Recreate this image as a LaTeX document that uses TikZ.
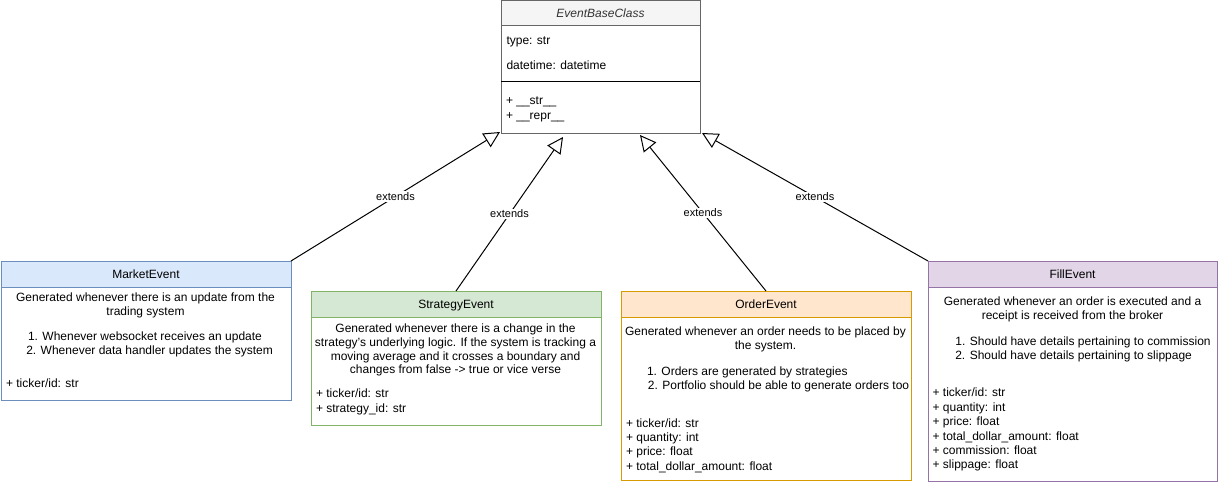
\documentclass[tikz,border=0pt]{standalone}
\usepackage{fontspec}
\setmainfont{Liberation Sans}
\usetikzlibrary{arrows.meta,calc}

\definecolor{baseline}{HTML}{666666}
\definecolor{basefill}{HTML}{F5F5F5}
\definecolor{basetext}{HTML}{333333}
\definecolor{mktline}{HTML}{6C8EBF}
\definecolor{mktfill}{HTML}{DAE8FC}
\definecolor{strline}{HTML}{82B366}
\definecolor{strfill}{HTML}{D5E8D4}
\definecolor{ordline}{HTML}{D79B00}
\definecolor{ordfill}{HTML}{FFE6CC}
\definecolor{fillline}{HTML}{9673A6}
\definecolor{fillfill}{HTML}{E1D5E7}

\begin{document}
\begin{tikzpicture}[x=1pt,y=-1pt,
  every node/.style={inner sep=0pt, outer sep=0pt},
  body/.style={font=\fontsize{12}{14.4}\selectfont},
  txt/.style={body, anchor=base west},
  ctxt/.style={body, anchor=base},
  frame/.style={draw=#1, line width=1pt, anchor=north west,
    minimum width=290pt},
  head/.style={frame=#1, minimum height=26pt, body,
    text height=8.6pt, text depth=0pt},
  ext/.style={draw=black, line width=1pt,
    -{Triangle[open, length=16pt, width=16pt]}},
  lbl/.style={midway, fill=white, inner sep=1pt,
    font=\fontsize{11}{13}\selectfont},
]
\useasboundingbox (0,0) rectangle (1218,484);

% ---------- base class ----------
\node[frame=baseline, minimum width=199pt, minimum height=133pt] (base) at (501,1) {};
\node[head=baseline, fill=basefill, minimum width=199pt, minimum height=25pt,
  font=\fontsize{12}{14.4}\selectfont\itshape, text=basetext] (baseHead) at (501,1) {EventBaseClass};
\node[txt] (bType) at (506.5,45) {type: str};
\node[txt] (bDate) at (506.5,70) {datetime: datetime};
\draw[line width=1pt] ($(base.north west)+(0,81)$) -- ($(base.north east)+(0,81)$);
\node[txt] (bStr)  at (506,105) {+ \_\_str\_\_};
\node[txt] (bRepr) at (506,119.4) {+ \_\_repr\_\_};

% ---------- MarketEvent ----------
\node[frame=mktline, minimum height=139pt] (market) at (1,261) {};
\node[head=mktline, fill=mktfill] (marketHead) at (1,261) {MarketEvent};
\node[ctxt] (mDesc1) at (145.5,301.5) {Generated whenever there is an update from the};
\node[ctxt] (mDesc2) at (145.5,315.9) {trading system};
\node[txt] (mList1) at (28,340) {1. Whenever websocket receives an update};
\node[txt] (mList2) at (26.3,354.4) {2. Whenever data handler updates the system};
\node[txt] (mAttr1) at (6,387.6) {+ ticker/id: str};

% ---------- StrategyEvent ----------
\node[frame=strline, minimum height=134pt] (strategy) at (311,291) {};
\node[head=strline, fill=strfill] (strategyHead) at (311,291) {StrategyEvent};
\node[ctxt] (sDesc1) at (455.5,332.6) {Generated whenever there is a change in the};
\node[ctxt] (sDesc2) at (455.5,346.3) {strategy's underlying logic. If the system is tracking a};
\node[ctxt] (sDesc3) at (455.5,360) {moving average and it crosses a boundary and};
\node[ctxt] (sDesc4) at (455.5,373.7) {changes from false -> true or vice verse};
\node[txt] (sAttr1) at (316,397.6) {+ ticker/id: str};
\node[txt] (sAttr2) at (316,412) {+ strategy\_id: str};

% ---------- OrderEvent ----------
\node[frame=ordline, minimum height=189pt] (order) at (621,291) {};
\node[head=ordline, fill=ordfill] (orderHead) at (621,291) {OrderEvent};
\node[ctxt] (oDesc1) at (765.5,335) {Generated whenever an order needs to be placed by};
\node[ctxt] (oDesc2) at (765.5,349.3) {the system.};
\node[txt] (oList1) at (647,375.3) {1. Orders are generated by strategies};
\node[txt] (oList2) at (647.9,389.3) {2. Portfolio should be able to generate orders too};
\node[txt] (oAttr1) at (626,427.6) {+ ticker/id: str};
\node[txt] (oAttr2) at (626,441.8) {+ quantity: int};
\node[txt] (oAttr3) at (626,455.9) {+ price: float};
\node[txt] (oAttr4) at (626,470) {+ total\_dollar\_amount: float};

% ---------- FillEvent ----------
\node[frame=fillline, minimum height=220pt, minimum width=289pt] (fill) at (928,261) {};
\node[head=fillline, fill=fillfill, minimum width=289pt] (fillHead) at (928,261) {FillEvent};
\node[ctxt] (fDesc1) at (1072.5,305.5) {Generated whenever an order is executed and a};
\node[ctxt] (fDesc2) at (1072.5,319.9) {receipt is received from the broker};
\node[txt] (fList1) at (955.4,345.3) {1. Should have details pertaining to commission};
\node[txt] (fList2) at (955.3,359.3) {2. Should have details pertaining to slippage};
\node[txt] (fAttr1) at (932.6,396.6) {+ ticker/id: str};
\node[txt] (fAttr2) at (932.6,411) {+ quantity: int};
\node[txt] (fAttr3) at (932.6,425.2) {+ price: float};
\node[txt] (fAttr4) at (932.6,440) {+ total\_dollar\_amount: float};
\node[txt] (fAttr5) at (932.6,454.3) {+ commission: float};
\node[txt] (fAttr6) at (932.6,468.6) {+ slippage: float};

% ---------- inheritance connectors ----------
\coordinate (tipMarket)   at (500,132);
\coordinate (tipStrategy) at (563,137);
\coordinate (tipOrder)    at (640,135);
\coordinate (tipFill)     at (702,133);

\draw[ext] (market.north east) -- node[lbl] {extends} (tipMarket);
\draw[ext] (strategy.north)    -- node[lbl] {extends} (tipStrategy);
\draw[ext] (order.north)       -- node[lbl] {extends} (tipOrder);
\draw[ext] (fill.north west)   -- node[lbl] {extends} (tipFill);
\end{tikzpicture}
\end{document}
